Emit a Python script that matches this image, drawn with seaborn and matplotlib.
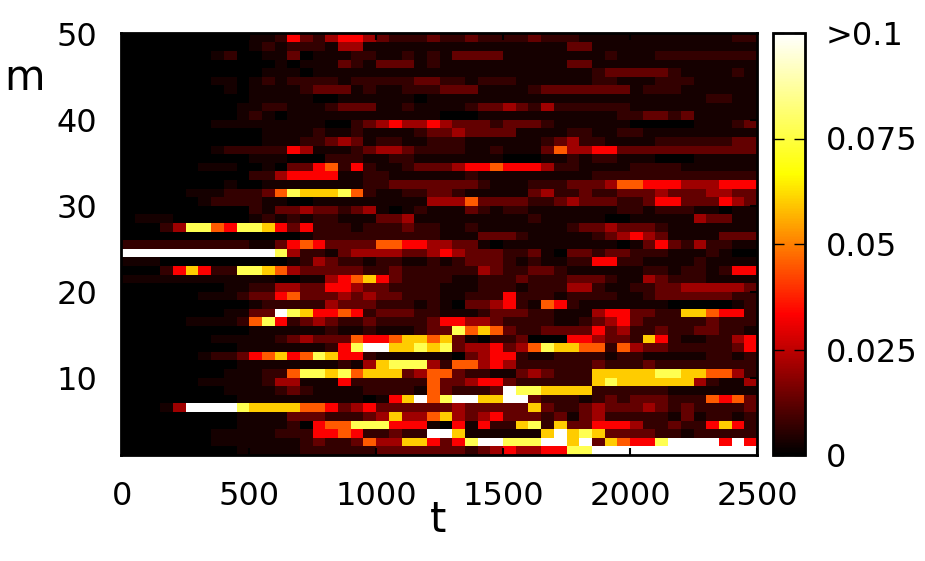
import numpy as np
import pandas as pd
import seaborn as sns
import matplotlib
matplotlib.use("Agg")
import matplotlib.pyplot as plt
from matplotlib.colors import LinearSegmentedColormap

# brightness class per cell, one string per m band, top band first
# each digit is a 50-wide t bin
levels = [
    "00000 00000 11253 24554 32223 22322 22322 21111 11111 11122",
    "00000 00000 12122 21441 11111 11111 11111 33111 11111 11111",
    "00000 00120 01130 11122 11212 13333 11111 11121 11222 22222",
    "00000 00000 00101 11321 33312 11111 11111 33111 11111 11111",
    "00000 00000 01110 11111 11111 11111 11111 11233 33321 11121",
    "00000 00110 12122 22122 22233 22122 21111 11221 11222 11111",
    "00000 00010 11112 33312 11222 33311 11233 33333 12221 11111",
    "00000 00000 11111 00111 11101 11111 11111 11111 11111 12211",
    "00000 00001 12211 12333 11211 11233 43242 22222 11111 11111",
    "00000 00001 21011 11111 11111 00011 11111 11112 23323 11111",
    "00000 00111 11111 10023 45445 43332 33321 11111 00000 11123",
    "00000 00000 01111 21121 11123 34333 31111 22112 21111 11111",
    "00000 00000 01112 23431 22112 22111 11123 42211 11222 22233",
    "00000 00122 22254 11123 44322 22112 11136 44553 33333 33333",
    "00000 00000 11100 02221 12211 11111 00011 21221 11000 11111",
    "00000 01110 01033 56252 11233 34556 55542 21111 22221 11111",
    "00000 00000 22455 55112 21111 11211 11111 11222 22222 22222",
    "00000 00010 01111 11112 23333 33321 11222 33346 65554 44555",
    "00000 11122 23687 77862 11223 32111 11342 23223 33433 34433",
    "00000 01222 21100 11111 11114 44633 33223 43332 23553 33543",
    "00000 00000 21334 33234 10121 11321 22111 11112 21222 11011",
    "01110 00000 12121 22111 33411 11111 11211 11100 11111 43311",
    "00024 88658 87535 22212 22322 11211 11111 23343 33211 11111",
    "00000 00000 00001 22222 22222 11133 32111 11234 54311 11333",
    "22222 22222 11356 53333 66554 43310 11111 11110 13532 42211",
    "99999 99999 99842 21344 44334 54333 22310 33233 22211 12100",
    "11100 00000 00012 43221 22112 12333 21211 22552 21111 21111",
    "00025 75228 87643 33332 23222 22243 22332 11111 12212 21255",
    "11111 11111 11001 14567 53222 21122 23222 33321 14322 21111",
    "00000 00011 22443 35543 32222 11122 21222 44211 22334 44443",
    "00000 01112 33563 33434 33222 11222 52221 22221 12333 33322",
    "00000 00000 12222 24333 22212 10334 52165 21111 11100 00012",
    "00000 00011 33987 55652 33322 11123 33221 11455 33227 76552",
    "00000 11112 68523 43223 22223 55443 22221 12345 32222 23222",
    "00000 00000 11111 12112 11123 38676 32233 33534 22322 33221",
    "00000 00111 11234 33365 56776 73102 23000 55433 27521 12245",
    "00000 00001 11111 12589 97787 83445 34687 76626 43322 22235",
    "00000 01223 56756 87552 11111 10345 52112 22212 21111 12212",
    "00000 00001 11111 11214 78884 26645 42222 22322 23222 22222",
    "00000 00011 12268 87867 77346 63221 13432 22777 77887 76642",
    "00000 01111 12441 11522 22226 33455 32222 22787 77777 42114",
    "00000 00011 11232 11112 22216 32223 98877 77222 22211 11111",
    "00000 00001 11111 11110 15796 89977 99322 21232 33322 26563",
    "00014 99998 77776 65345 33333 34333 33732 23433 34323 22223",
    "00000 00001 11133 32223 47446 74345 33323 13422 22213 12212",
    "00000 00001 11120 56688 85551 05152 27827 33555 42232 25752",
    "00000 00111 11222 55652 23229 97111 11179 78733 33221 22222",
    "00000 00111 11112 32236 44775 35899 88899 79376 55899 99595",
    "00000 00001 11112 22222 33333 33234 54455 88999 99999 99999",
]
# amplitude that each brightness class stands for
level_values = [0.0, 0.003, 0.007, 0.013, 0.021, 0.033, 0.045, 0.06, 0.077, 0.1]

m_bands = list(range(49, 0, -1))
t_bins = list(range(0, 2500, 50))
x_ticks = [0, 500, 1000, 1500, 2000, 2500]
y_ticks = [10, 20, 30, 40, 50]
cbar_ticks = [0, 0.025, 0.05, 0.075, 0.1]
cbar_labels = ["0", "0.025", "0.05", "0.075", ">0.1"]

rows = [[level_values[int(c)] for c in r.replace(" ", "")] for r in levels]
df = pd.DataFrame(rows, index=m_bands, columns=t_bins)

W, H = 925, 561
plt.rcParams["font.family"] = "DejaVu Sans"
fig = plt.figure(figsize=(W / 100, H / 100), dpi=100)
ax = fig.add_axes([121 / W, 1 - 455 / H, 636 / W, 422 / H])
cax = fig.add_axes([773 / W, 1 - 455 / H, 32 / W, 422 / H])

cmap = LinearSegmentedColormap.from_list("gp_hot", ["black", "red", "yellow", "white"], N=256)
sns.heatmap(df, ax=ax, cbar_ax=cax, cmap=cmap, vmin=0, vmax=0.1,
            xticklabels=False, yticklabels=False)
ax.set_xlabel("")
ax.set_ylabel("")

# heatmap axes are in cell units, so convert the t and m ticks
ax.set_facecolor("white")
ax.set_xlim(-0.1, len(t_bins))
ax.set_ylim(len(m_bands), -0.1)
ax.set_xticks([t / 50 for t in x_ticks])
ax.set_xticklabels(x_ticks, fontsize=23)
ax.set_yticks([50 - m for m in y_ticks])
ax.set_yticklabels(y_ticks, fontsize=23)
ax.tick_params(direction="in", length=5, width=1.5, top=True, right=True, color="black")
ax.tick_params(axis="x", pad=19)
ax.tick_params(axis="y", pad=17)
for s in ax.spines.values():
    s.set_visible(True)
    s.set_linewidth(2)

cbar = ax.collections[0].colorbar
cbar.set_ticks(cbar_ticks)
cbar.set_ticklabels(cbar_labels)
cax.tick_params(direction="in", length=8, width=1, left=True, right=True, labelsize=23, pad=15, color="black")
cbar.outline.set_visible(True)
cbar.outline.set_linewidth(2)
cbar.outline.set_edgecolor("black")

fig.text(24 / W, 1 - 78 / H, "m", fontsize=30, ha="center", va="center")
fig.text(438 / W, 1 - 520 / H, "t", fontsize=30, ha="center", va="center")

fig.savefig("out.png", dpi=100)
